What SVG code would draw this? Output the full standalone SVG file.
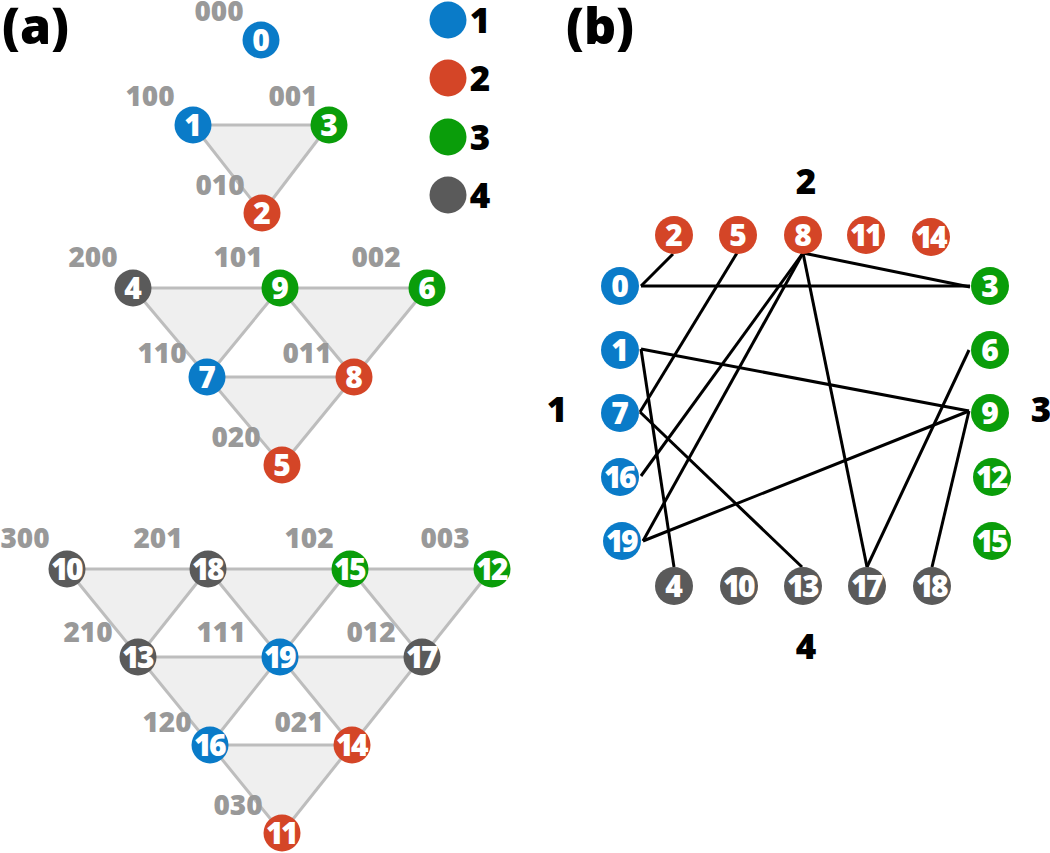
<svg xmlns="http://www.w3.org/2000/svg" width="1050" height="853" viewBox="0 0 1050 853">
<style>
text{font-family:"Open Sans","Liberation Sans",sans-serif;font-weight:800}
.panel{font-size:50px;fill:#000}
.lab{font-size:28px;fill:#999;text-anchor:middle}
.big{font-size:35px;fill:#000;text-anchor:middle}
.nt{font-size:30px;fill:#fff;text-anchor:middle}
.n2{letter-spacing:-2.5px}
.c1{fill:#0a7bc8}.c2{fill:#d44527}.c3{fill:#0a9d0a}.c4{fill:#5a5a5a}
.tri{fill:#efefef;stroke:none}
.ge{stroke:#bdbdbd;stroke-width:3;fill:none}
.be{stroke:#000;stroke-width:3;fill:none}
</style>
<rect width="1050" height="853" fill="#fff"/>
<text class="panel" x="2" y="44">(a)</text>
<text class="panel" x="566" y="44">(b)</text>
<g id="legend">
<circle class="c1" cx="448" cy="20" r="18.5"/><text class="big" x="480" y="33">1</text>
<circle class="c2" cx="448" cy="78" r="18.5"/><text class="big" x="480" y="91">2</text>
<circle class="c3" cx="448" cy="137" r="18.5"/><text class="big" x="480" y="150">3</text>
<circle class="c4" cx="448" cy="195" r="18.5"/><text class="big" x="480" y="208">4</text>
</g>
<g id="triangles-a">
<polygon class="tri" points="193,125 329,125 262,213"/>
<polygon class="tri" points="133,288 280,288 207,377"/>
<polygon class="tri" points="280,288 427,288 354,377"/>
<polygon class="tri" points="207,377 354,377 282,465"/>
<polygon class="tri" points="67,569 208,569 138,657"/>
<polygon class="tri" points="208,569 350,569 280,657"/>
<polygon class="tri" points="350,569 492,569 422,657"/>
<polygon class="tri" points="138,657 280,657 210,745"/>
<polygon class="tri" points="280,657 422,657 352,745"/>
<polygon class="tri" points="210,745 352,745 282,833"/>
</g>
<g id="edges-a" class="ge">
<line x1="193" y1="125" x2="329" y2="125"/><line x1="193" y1="125" x2="262" y2="213"/><line x1="329" y1="125" x2="262" y2="213"/>
<line x1="133" y1="288" x2="427" y2="288"/><line x1="207" y1="377" x2="354" y2="377"/>
<line x1="133" y1="288" x2="282" y2="465"/><line x1="280" y1="288" x2="354" y2="377"/>
<line x1="427" y1="288" x2="282" y2="465"/><line x1="280" y1="288" x2="207" y2="377"/>
<line x1="67" y1="569" x2="492" y2="569"/><line x1="138" y1="657" x2="422" y2="657"/><line x1="210" y1="745" x2="352" y2="745"/>
<line x1="67" y1="569" x2="282" y2="833"/><line x1="208" y1="569" x2="352" y2="745"/><line x1="350" y1="569" x2="422" y2="657"/>
<line x1="492" y1="569" x2="282" y2="833"/><line x1="350" y1="569" x2="210" y2="745"/><line x1="208" y1="569" x2="138" y2="657"/>
</g>
<g id="labels-a">
<text class="lab" x="219" y="21">000</text>
<text class="lab" x="150" y="106">100</text>
<text class="lab" x="293" y="106">001</text>
<text class="lab" x="220" y="195">010</text>
<text class="lab" x="93" y="267">200</text>
<text class="lab" x="238" y="267">101</text>
<text class="lab" x="376" y="267">002</text>
<text class="lab" x="162" y="363">110</text>
<text class="lab" x="307" y="363">011</text>
<text class="lab" x="236" y="447">020</text>
<text class="lab" x="25" y="548">300</text>
<text class="lab" x="158" y="548">201</text>
<text class="lab" x="309" y="548">102</text>
<text class="lab" x="445" y="548">003</text>
<text class="lab" x="88" y="642">210</text>
<text class="lab" x="221" y="642">111</text>
<text class="lab" x="371" y="642">012</text>
<text class="lab" x="167" y="732">120</text>
<text class="lab" x="299" y="732">021</text>
<text class="lab" x="238" y="815">030</text>
</g>
<g id="nodes-a">
<g id="a0"><circle class="c1" cx="261" cy="40" r="18.5"/><text class="nt" x="261" y="51">0</text></g>
<g id="a1"><circle class="c1" cx="193" cy="125" r="18.5"/><text class="nt" x="193" y="136">1</text></g>
<g id="a3"><circle class="c3" cx="329" cy="125" r="18.5"/><text class="nt" x="329" y="136">3</text></g>
<g id="a2"><circle class="c2" cx="262" cy="213" r="18.5"/><text class="nt" x="262" y="224">2</text></g>
<g id="a4"><circle class="c4" cx="133" cy="288" r="18.5"/><text class="nt" x="133" y="299">4</text></g>
<g id="a9"><circle class="c3" cx="280" cy="288" r="18.5"/><text class="nt" x="280" y="299">9</text></g>
<g id="a6"><circle class="c3" cx="427" cy="288" r="18.5"/><text class="nt" x="427" y="299">6</text></g>
<g id="a7"><circle class="c1" cx="207" cy="377" r="18.5"/><text class="nt" x="207" y="388">7</text></g>
<g id="a8"><circle class="c2" cx="354" cy="377" r="18.5"/><text class="nt" x="354" y="388">8</text></g>
<g id="a5"><circle class="c2" cx="282" cy="465" r="18.5"/><text class="nt" x="282" y="476">5</text></g>
<g id="a10"><circle class="c4" cx="67" cy="569" r="18.5"/><text class="nt n2" x="66" y="580">10</text></g>
<g id="a18"><circle class="c4" cx="208" cy="569" r="18.5"/><text class="nt n2" x="207" y="580">18</text></g>
<g id="a15"><circle class="c3" cx="350" cy="569" r="18.5"/><text class="nt n2" x="349" y="580">15</text></g>
<g id="a12"><circle class="c3" cx="492" cy="569" r="18.5"/><text class="nt n2" x="491" y="580">12</text></g>
<g id="a13"><circle class="c4" cx="138" cy="657" r="18.5"/><text class="nt n2" x="137" y="668">13</text></g>
<g id="a19"><circle class="c1" cx="280" cy="657" r="18.5"/><text class="nt n2" x="279" y="668">19</text></g>
<g id="a17"><circle class="c4" cx="422" cy="657" r="18.5"/><text class="nt n2" x="421" y="668">17</text></g>
<g id="a16"><circle class="c1" cx="210" cy="745" r="18.5"/><text class="nt n2" x="209" y="756">16</text></g>
<g id="a14"><circle class="c2" cx="352" cy="745" r="18.5"/><text class="nt n2" x="351" y="756">14</text></g>
<g id="a11"><circle class="c2" cx="282" cy="833" r="18.5"/><text class="nt n2" x="281" y="844">11</text></g>
</g>
<g id="group-labels-b">
<text class="big" x="806" y="194">2</text>
<text class="big" x="806" y="659">4</text>
<text class="big" x="557" y="422">1</text>
<text class="big" x="1041" y="422">3</text>
</g>
<g id="connectors-b" class="be">
<line x1="641" y1="286" x2="673" y2="254"/>
<line x1="641" y1="286" x2="970" y2="286"/>
<line x1="803" y1="253" x2="970" y2="287"/>
<line x1="737" y1="253" x2="640" y2="412"/>
<line x1="641" y1="349" x2="674" y2="567"/>
<line x1="641" y1="349" x2="969" y2="411"/>
<line x1="640" y1="412" x2="802" y2="567"/>
<line x1="803" y1="253" x2="641" y2="476"/>
<line x1="803" y1="253" x2="643" y2="541"/>
<line x1="803" y1="253" x2="867" y2="567"/>
<line x1="969" y1="350" x2="867" y2="567"/>
<line x1="969" y1="411" x2="643" y2="541"/>
<line x1="969" y1="411" x2="932" y2="567"/>
</g>
<g id="nodes-b">
<g id="b2"><circle class="c2" cx="674" cy="235" r="19"/><text class="nt" x="674" y="246">2</text></g>
<g id="b5"><circle class="c2" cx="738" cy="235" r="19"/><text class="nt" x="738" y="246">5</text></g>
<g id="b8"><circle class="c2" cx="803" cy="235" r="19"/><text class="nt" x="803" y="246">8</text></g>
<g id="b11"><circle class="c2" cx="866" cy="235" r="19"/><text class="nt n2" x="865" y="246">11</text></g>
<g id="b14"><circle class="c2" cx="931" cy="237" r="19"/><text class="nt n2" x="930" y="248">14</text></g>
<g id="b0"><circle class="c1" cx="620" cy="286" r="19"/><text class="nt" x="620" y="297">0</text></g>
<g id="b1"><circle class="c1" cx="620" cy="350" r="19"/><text class="nt" x="620" y="361">1</text></g>
<g id="b7"><circle class="c1" cx="620" cy="413" r="19"/><text class="nt" x="620" y="424">7</text></g>
<g id="b16"><circle class="c1" cx="620" cy="477" r="19"/><text class="nt n2" x="619" y="488">16</text></g>
<g id="b19"><circle class="c1" cx="622" cy="541" r="19"/><text class="nt n2" x="621" y="552">19</text></g>
<g id="b3"><circle class="c3" cx="990" cy="286" r="19"/><text class="nt" x="990" y="297">3</text></g>
<g id="b6"><circle class="c3" cx="990" cy="350" r="19"/><text class="nt" x="990" y="361">6</text></g>
<g id="b9"><circle class="c3" cx="990" cy="413" r="19"/><text class="nt" x="990" y="424">9</text></g>
<g id="b12"><circle class="c3" cx="992" cy="477" r="19"/><text class="nt n2" x="991" y="488">12</text></g>
<g id="b15"><circle class="c3" cx="992" cy="541" r="19"/><text class="nt n2" x="991" y="552">15</text></g>
<g id="b4"><circle class="c4" cx="674" cy="586" r="19"/><text class="nt" x="674" y="597">4</text></g>
<g id="b10"><circle class="c4" cx="739" cy="586" r="19"/><text class="nt n2" x="738" y="597">10</text></g>
<g id="b13"><circle class="c4" cx="803" cy="586" r="19"/><text class="nt n2" x="802" y="597">13</text></g>
<g id="b17"><circle class="c4" cx="867" cy="586" r="19"/><text class="nt n2" x="866" y="597">17</text></g>
<g id="b18"><circle class="c4" cx="932" cy="586" r="19"/><text class="nt n2" x="931" y="597">18</text></g>
</g>
</svg>
